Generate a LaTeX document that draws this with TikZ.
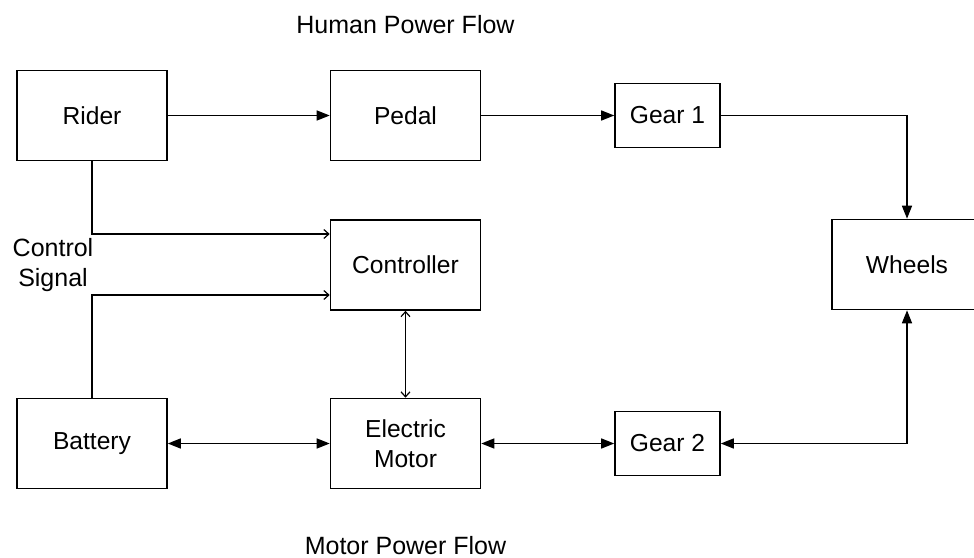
\documentclass[tikz,border=0pt]{standalone}
\usepackage{fontspec}
\setmainfont{Liberation Sans}
\usepackage{tikz}
\usetikzlibrary{arrows.meta,positioning}
\tikzset{
  box/.style={rectangle, draw, line width=0.8pt, minimum width=75pt, minimum height=45pt, align=center, font=\fontsize{12.3}{15}\selectfont},
  gearbox/.style={box, minimum width=52.5pt, minimum height=32pt},
  label/.style={align=center, inner sep=0pt, font=\fontsize{12.5}{15}\selectfont},
  arrow/.style={-{Triangle[length=6.5pt,width=5pt]}, line width=0.75pt},
  biarrow/.style={{Triangle[length=6.5pt,width=5pt]}-{Triangle[length=6.5pt,width=5pt]}, line width=0.75pt},
  sigarrow/.style={-{Straight Barb[length=2.5pt,width=4.5pt]}, line width=0.6pt},
  sigbiarrow/.style={{Straight Barb[length=2.5pt,width=4.5pt]}-{Straight Barb[length=2.5pt,width=4.5pt]}, line width=0.6pt},
}

\begin{document}
\begin{tikzpicture}
  \useasboundingbox (0,0) rectangle (487pt,-278.5pt);

  % Human power row
  \node[box] (rider) at (46pt,-57.75pt) {Rider};
  \node[box, right of=rider, node distance=156.75pt] (pedal) {Pedal};
  \node[gearbox, right of=pedal, node distance=131pt] (gear1) {Gear 1};
  \node[label, above of=pedal, node distance=45.25pt] (human) {Human Power Flow};

  % Controller and wheels
  \node[box, below of=pedal, node distance=74.75pt] (controller) {Controller};
  \node[box, right of=gear1, node distance=119.75pt, yshift=-74.5pt] (wheels) {Wheels};
  \node[label, xshift=-19.5pt] (signal) at (rider |- controller) {Control\\Signal};

  % Motor power row
  \node[box, below of=controller, node distance=89.25pt] (motor) {Electric\\Motor};
  \node[box, left of=motor, node distance=156.75pt] (battery) {Battery};
  \node[gearbox, right of=motor, node distance=131pt] (gear2) {Gear 2};
  \node[label, below of=motor, node distance=51pt] (motorflow) {Motor Power Flow};

  % Power flow
  \draw[arrow] (rider) -- (pedal);
  \draw[arrow] (pedal) -- (gear1);
  \draw[arrow] (gear1.east) -| (wheels.north);
  \draw[biarrow] (battery) -- (motor);
  \draw[biarrow] (motor) -- (gear2);
  \draw[biarrow] (gear2.east) -| (wheels.south);

  % Control signals
  \draw[sigarrow] (rider.south) |- ([yshift=15.5pt]controller.west);
  \draw[sigarrow] (battery.north) |- ([yshift=-15pt]controller.west);
  \draw[sigbiarrow] (controller) -- (motor);
\end{tikzpicture}
\end{document}
